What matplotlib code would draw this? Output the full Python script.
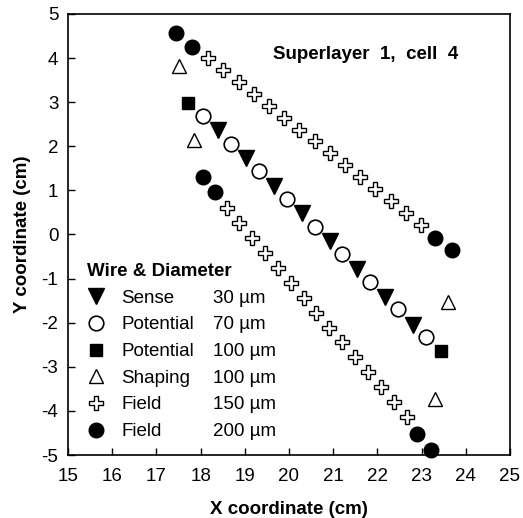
import matplotlib.pyplot as plt
from matplotlib.lines import Line2D

plt.rcParams['font.family'] = ['Liberation Sans', 'DejaVu Sans']
plt.rcParams['axes.unicode_minus'] = False

# Field 150 um wires (open crosses), upper and lower rows
field150_up_x = [18.17, 18.51, 18.86, 19.20, 19.55, 19.89, 20.23, 20.58, 20.92, 21.27, 21.61, 21.95, 22.30, 22.64, 22.99]
field150_up_y = [4.00, 3.73, 3.46, 3.19, 2.92, 2.65, 2.38, 2.11, 1.84, 1.57, 1.30, 1.03, 0.76, 0.49, 0.22]
field150_lo_x = [18.59, 18.88, 19.17, 19.46, 19.75, 20.04, 20.33, 20.62, 20.91, 21.20, 21.49, 21.78, 22.08, 22.37, 22.66]
field150_lo_y = [0.59, 0.25, -0.09, -0.42, -0.76, -1.10, -1.43, -1.77, -2.11, -2.44, -2.78, -3.12, -3.45, -3.79, -4.13]

# Field 200 um wires (filled circles)
field200_x = [17.44, 17.81, 23.30, 23.70, 18.05, 18.33, 22.90, 23.21]
field200_y = [4.57, 4.25, -0.08, -0.36, 1.31, 0.96, -4.52, -4.89]

# Potential 70 um (open circles) and sense 30 um (filled down triangles)
pot70_x = [18.06, 18.69, 19.32, 19.95, 20.58, 21.21, 21.84, 22.47, 23.10]
pot70_y = [2.69, 2.06, 1.44, 0.81, 0.18, -0.45, -1.08, -1.70, -2.33]
sense_x = [18.40, 19.03, 19.66, 20.29, 20.92, 21.55, 22.18, 22.81]
sense_y = [2.37, 1.74, 1.11, 0.48, -0.15, -0.78, -1.41, -2.05]

# Potential 100 um (filled squares) and shaping 100 um (open triangles)
pot100_x = [17.72, 23.45]
pot100_y = [2.99, -2.64]
shaping_x = [17.52, 17.86, 23.59, 23.30]
shaping_y = [3.82, 2.14, -1.52, -3.74]

wire_names = ["Sense", "Potential", "Potential", "Shaping", "Field", "Field"]
diameters = ["30 µm", "70 µm", "100 µm", "100 µm", "150 µm", "200 µm"]

fig, ax = plt.subplots(figsize=(5.23, 5.18), dpi=100)
fig.subplots_adjust(left=0.130, right=0.975, top=0.973, bottom=0.1216)

styles = [
    dict(marker='v', ms=11.5, mfc='black', mec='black'),
    dict(marker='o', ms=10.5, mfc='white', mec='black', mew=1.2),
    dict(marker='s', ms=8.5, mfc='black', mec='black'),
    dict(marker='^', ms=10.5, mfc='white', mec='black', mew=1.0),
    dict(marker='P', ms=10, mfc='white', mec='black', mew=1.0),
    dict(marker='o', ms=10.5, mfc='black', mec='black'),
]

ax.plot(field150_up_x, field150_up_y, ls='none', **styles[4])
ax.plot(field150_lo_x, field150_lo_y, ls='none', **styles[4])
ax.plot(field200_x, field200_y, ls='none', clip_on=False, **styles[5])
ax.plot(pot70_x, pot70_y, ls='none', **styles[1])
ax.plot(sense_x, sense_y, ls='none', **styles[0])
ax.plot(pot100_x, pot100_y, ls='none', **styles[2])
ax.plot(shaping_x, shaping_y, ls='none', **styles[3])

ax.set_xlim(15, 25)
ax.set_ylim(-5, 5)
ax.set_xticks(range(15, 26))
ax.set_yticks(range(-5, 6))
ax.tick_params(direction='in', length=5, width=1, labelsize=13.5)
ax.tick_params(axis='x', pad=9)
ax.tick_params(axis='y', pad=7)
for s in ax.spines.values():
    s.set_linewidth(1.2)

ax.set_xlabel("X coordinate (cm)", fontsize=13.5, fontweight='bold', labelpad=12)
ax.set_ylabel("Y coordinate (cm)", fontsize=13.5, fontweight='bold', labelpad=7.5)

ax.text(0.465, 0.908, "Superlayer  1,  cell  4", transform=ax.transAxes,
        fontsize=13.5, fontweight='bold', va='center', ha='left')

handles = [Line2D([], [], ls='none', **st) for st in styles]
blanks = [Line2D([], [], ls='none') for _ in diameters]
leg = ax.legend(handles + blanks, wire_names + diameters, ncol=2,
                loc='upper left', bbox_to_anchor=(0.013, 0.465),
                frameon=False, fontsize=13.5, title="Wire & Diameter",
                title_fontproperties={'weight': 'bold', 'size': 13.5},
                alignment='left', handlelength=1.0, handletextpad=0.85,
                columnspacing=-0.85, labelspacing=0.51, borderpad=0.2)

fig.savefig("out.png", dpi=100)
